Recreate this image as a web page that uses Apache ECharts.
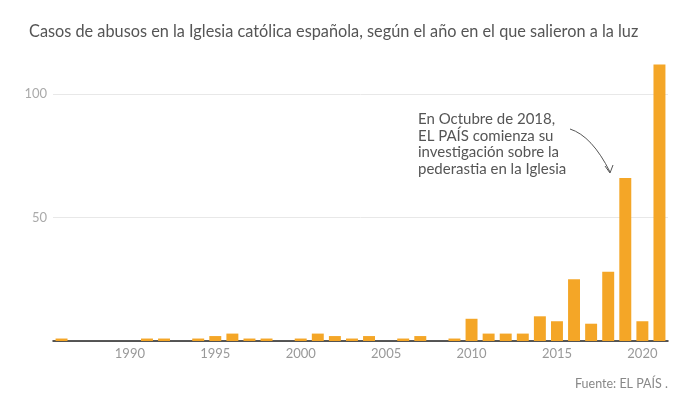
<!DOCTYPE html>
<html>
<head>
<meta charset="utf-8">
<script src="https://cdn.jsdelivr.net/npm/echarts@6/dist/echarts.min.js"></script>
<style>
    html, body { margin: 0; padding: 0; background: #fff; }
    #chart { width: 689px; height: 407px; }
</style>
</head>
<body>
<div id="chart"></div>
<script>
var years = [];
for (var y = 1986; y <= 2021; y++) {
    years.push(String(y));
}
// casos por año, 1986 - 2021
var casos = [1, 0, 0, 0, 0, 1, 1, 0, 1, 2, 3, 1, 1, 0, 1, 3, 2, 1, 2, 0,
    1, 2, 0, 1, 9, 3, 3, 3, 10, 8, 25, 7, 28, 66, 8, 112];
var yTicks = [0, 50, 100];

var myChart = echarts.init(document.getElementById('chart'));
var font = 'Lato, "Open Sans", sans-serif';
var option = {
    animation: false,
    title: {
        text: 'Casos de abusos en la Iglesia católica española, según el año en el que salieron a la luz',
        left: 24,
        top: 19,
        textStyle: {
            fontFamily: font,
            fontSize: 16.3,
            fontWeight: 'normal',
            color: '#555'
        }
    },
    grid: {
        left: 53,
        right: 21,
        top: 57,
        bottom: 66
    },
    xAxis: {
        type: 'category',
        data: years,
        axisTick: { show: false },
        axisLine: {
            lineStyle: { color: '#222', width: 1.5 }
        },
        axisLabel: {
            interval: function (index, value) {
                return Number(value) % 5 === 0;
            },
            color: '#999',
            fontFamily: font,
            fontSize: 13,
            margin: 6
        }
    },
    yAxis: {
        type: 'value',
        min: yTicks[0],
        max: 115,
        interval: yTicks[1] - yTicks[0],
        axisLine: { show: false },
        axisTick: { show: false },
        axisLabel: {
            showMaxLabel: false,
            showMinLabel: false,
            color: '#aaa',
            fontFamily: font,
            fontSize: 13,
            margin: 6
        },
        splitLine: {
            showMaxLine: false,
            lineStyle: { color: '#e8e8e8', width: 1 }
        }
    },
    series: [{
        type: 'bar',
        data: casos,
        barWidth: '70%',
        itemStyle: { color: '#F4A627' }
    }],
    graphic: [{
        type: 'text',
        left: 418,
        top: 111,
        style: {
            text: 'En Octubre de 2018,\nEL PAÍS comienza su\ninvestigación sobre la\npederastia en la Iglesia',
            font: '15px ' + font,
            fill: '#555',
            lineHeight: 16.5
        }
    }, {
        type: 'bezierCurve',
        shape: { x1: 570, y1: 129, cpx1: 592, cpy1: 136, x2: 610, y2: 172 },
        style: { stroke: '#555', lineWidth: 1, fill: null }
    }, {
        type: 'polyline',
        shape: { points: [[605, 166], [610, 173], [613, 165]] },
        style: { stroke: '#555', lineWidth: 1, fill: null }
    }, {
        type: 'text',
        right: 21,
        top: 377,
        style: {
            text: 'Fuente: EL PAÍS .',
            font: '12.5px ' + font,
            fill: '#888'
        }
    }]
};
myChart.setOption(option);
</script>
</body>
</html>
